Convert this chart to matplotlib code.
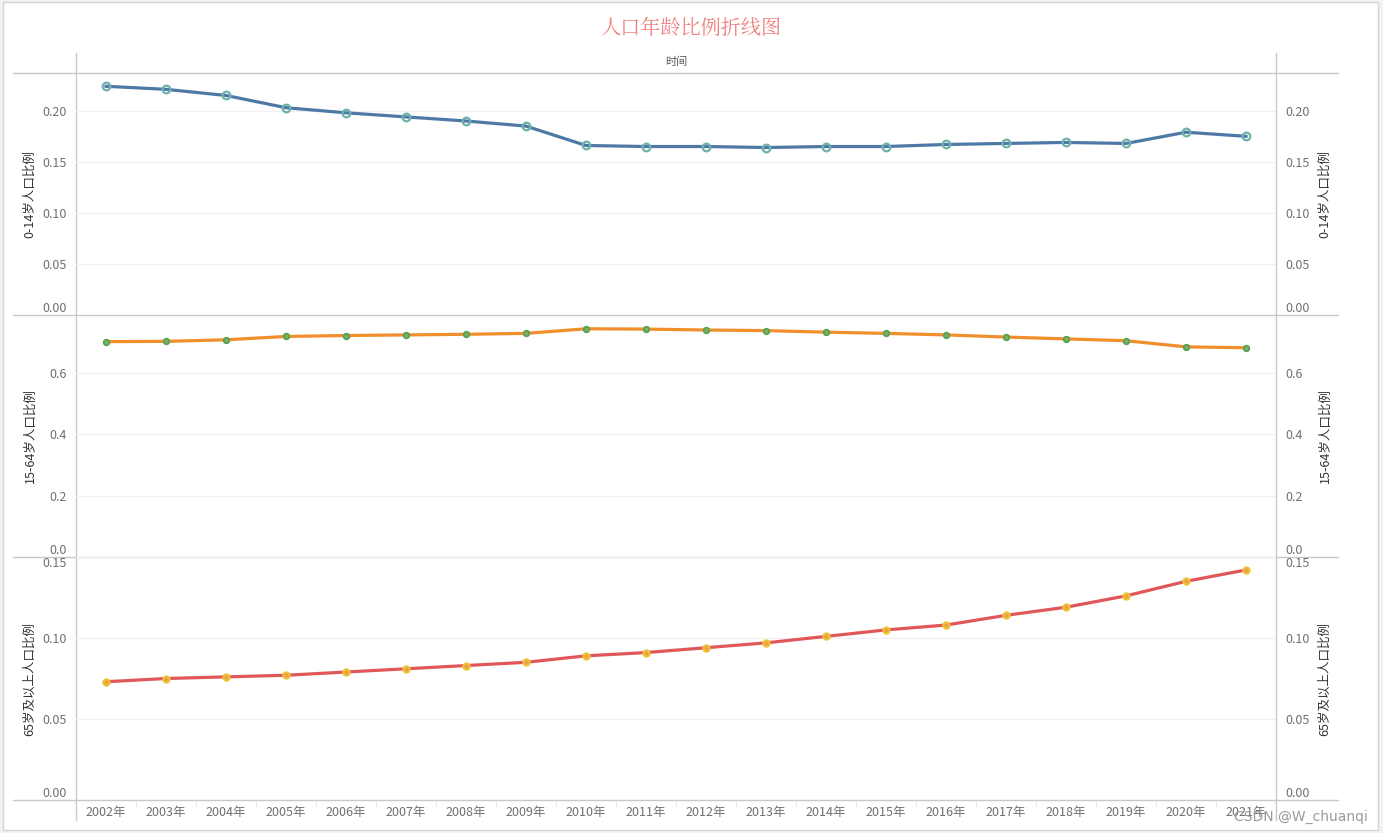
import matplotlib.pyplot as plt
from matplotlib.patches import Rectangle
from matplotlib.lines import Line2D

plt.rcParams['font.family'] = ['Noto Sans CJK SC', 'DejaVu Sans']

years = ['2002年', '2003年', '2004年', '2005年', '2006年', '2007年', '2008年', '2009年', '2010年', '2011年',
         '2012年', '2013年', '2014年', '2015年', '2016年', '2017年', '2018年', '2019年', '2020年', '2021年']
age_0_14 = [0.224, 0.221, 0.215, 0.203, 0.198, 0.194, 0.190, 0.185, 0.166, 0.165,
            0.165, 0.164, 0.165, 0.165, 0.167, 0.168, 0.169, 0.168, 0.179, 0.175]
age_15_64 = [0.703, 0.704, 0.709, 0.720, 0.723, 0.725, 0.727, 0.730, 0.745, 0.744,
             0.741, 0.739, 0.734, 0.730, 0.725, 0.718, 0.712, 0.706, 0.686, 0.683]
age_65 = [0.073, 0.075, 0.076, 0.077, 0.079, 0.081, 0.083, 0.085, 0.089, 0.091,
          0.094, 0.097, 0.101, 0.105, 0.108, 0.114, 0.119, 0.126, 0.135, 0.142]

W, H = 1383, 833
fig = plt.figure(figsize=(W / 100, H / 100), dpi=100, facecolor='#f2f2f2')
fig.patches.append(Rectangle((3 / W, 1 - 830 / H), 1375 / W, 828 / H, transform=fig.transFigure,
                             facecolor='white', edgecolor='#d4d4d4', lw=1, zorder=-5))

left, right = 76, 1276
bounds = [73, 315, 557, 800]
panels = [
    (age_0_14, '0-14岁人口比例', 0.237, [0, 0.05, 0.10, 0.15, 0.20], '{:.2f}',
     dict(color='#4e79a7', mec='#6fb2ad', mfc='none', ms=5.5, mew=1.6)),
    (age_15_64, '15-64岁人口比例', 0.79, [0, 0.2, 0.4, 0.6], '{:.1f}',
     dict(color='#f28e2b', mec='#59a14f', mfc='#7fb069', ms=4, mew=1.3)),
    (age_65, '65岁及以上人口比例', 0.15, [0, 0.05, 0.10, 0.15], '{:.2f}',
     dict(color='#e15759', mec='#f1c232', mfc='#e8a04a', ms=4.5, mew=1.5)),
]

x = list(range(len(years)))
tick_col = '#707070'
for i, (vals, label, top, ticks, fmt, style) in enumerate(panels):
    y0, y1 = bounds[i], bounds[i + 1]
    ax = fig.add_axes([left / W, 1 - y1 / H, (right - left) / W, (y1 - y0) / H], zorder=2)
    ax.set_facecolor('none')
    ax.plot(x, vals, lw=2.3, marker='o', zorder=3, **style)
    ax.set_xlim(-0.5, len(years) - 0.5)
    ax.set_ylim(0, top)
    ax.set_yticks(ticks)
    ax.set_yticklabels([fmt.format(t) for t in ticks])
    ax.grid(axis='y', color='#efefef', lw=0.8)
    ax.set_axisbelow(True)
    for s in ax.spines.values():
        s.set_visible(False)
    ax.tick_params(axis='y', length=0, pad=7, labelsize=9, labelcolor=tick_col,
                   labelleft=True, labelright=True)
    # edge labels are pushed inside the panel
    for tk, t in zip(ax.yaxis.get_major_ticks(), ticks):
        if t == 0:
            tk.label1.set_verticalalignment('bottom')
            tk.label2.set_verticalalignment('bottom')
        elif abs(t - top) < 1e-9:
            tk.label1.set_verticalalignment('top')
            tk.label2.set_verticalalignment('top')
    if i == 2:
        ax.set_xticks(x)
        ax.set_xticklabels(years)
        ax.set_xticks([v + 0.5 for v in x[:-1]], minor=True)
        ax.tick_params(axis='x', which='major', length=0, pad=4, labelsize=9, labelcolor=tick_col)
        ax.tick_params(axis='x', which='minor', length=5, color='#e6e6e6')
    else:
        ax.set_xticks([])
    yc = 1 - (y0 + y1) / 2 / H
    fig.text(30 / W, yc, label, rotation=90, ha='center', va='center', fontsize=9, color='#333333')
    fig.text(1325 / W, yc, label, rotation=90, ha='center', va='center', fontsize=9, color='#333333')

# separators and axis lines
for yb in bounds:
    fig.add_artist(Line2D([13 / W, 1338 / W], [1 - yb / H, 1 - yb / H], color='#c8c8c8', lw=1))
for xb in (left, right):
    fig.add_artist(Line2D([xb / W, xb / W], [1 - 53 / H, 1 - 820 / H], color='#c8c8c8', lw=1))

fig.text(691 / W, 1 - 28 / H, '人口年龄比例折线图', ha='center', va='center', fontsize=14.5,
         color='#f07f7f', family=['Noto Serif CJK SC', 'Noto Sans CJK SC'])
fig.text(676 / W, 1 - 62 / H, '时间', ha='center', va='center', fontsize=8, color='#555555')
fig.text(1368 / W, 1 - 817 / H, 'CSDN @W_chuanqi', ha='right', va='center', fontsize=10, color='#9a9a9a',
         family=['DejaVu Sans'])

fig.savefig('out.png', dpi=100, facecolor=fig.get_facecolor())
